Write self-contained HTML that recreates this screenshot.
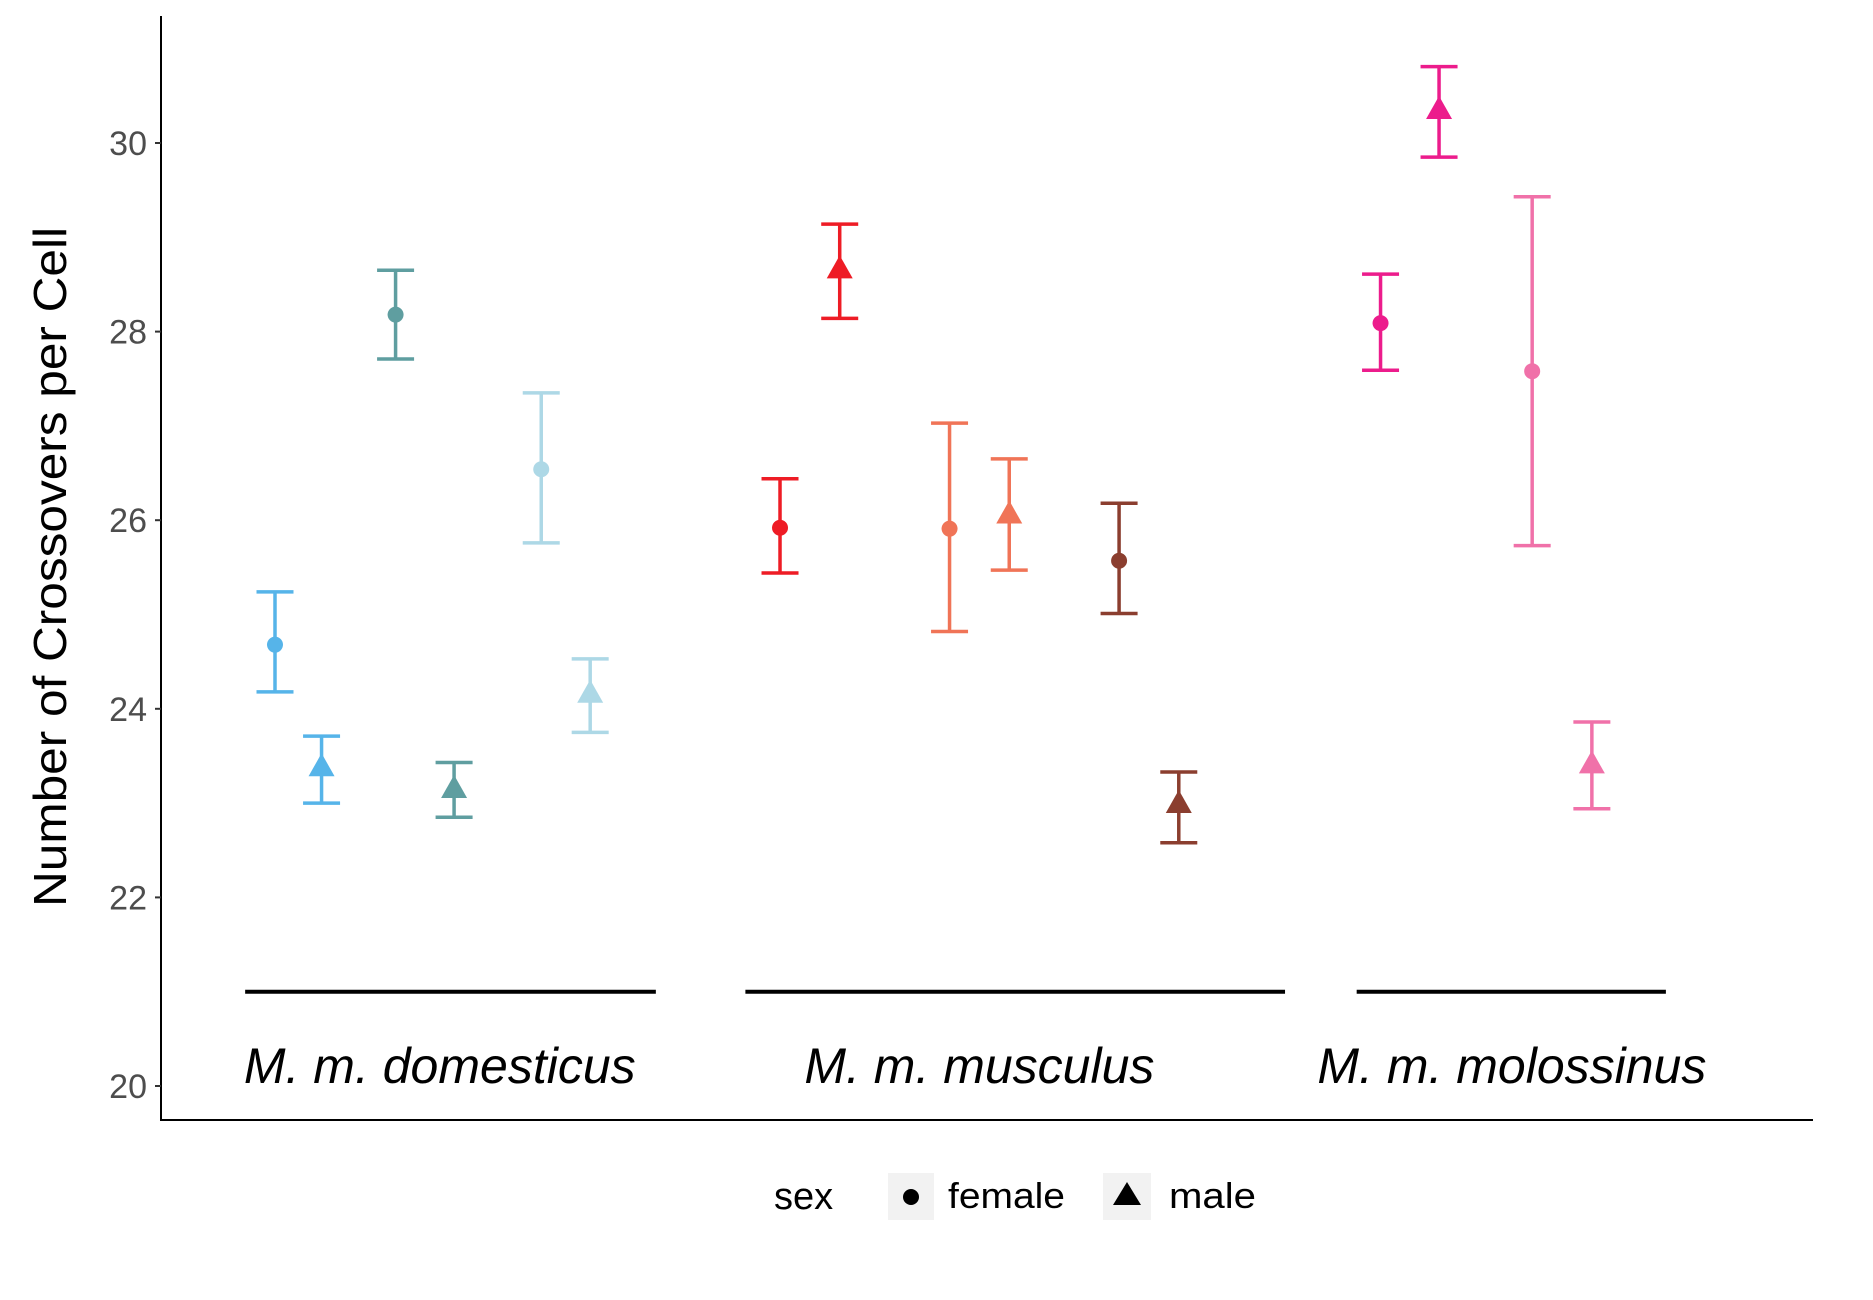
<!DOCTYPE html>
<html><head><meta charset="utf-8"><style>
html,body{margin:0;padding:0;background:#fff;}
svg{display:block;font-family:"Liberation Sans",sans-serif;}
</style></head><body>
<svg id="chart" width="1873" height="1300" viewBox="0 0 1873 1300">
<g id="axes"></g>
<g id="marks"></g>
<g id="groups"></g>
<text transform="translate(66,567) rotate(-90)" text-anchor="middle" font-size="46" textLength="680" lengthAdjust="spacingAndGlyphs" fill="#000">Number of Crossovers per Cell</text>
<g transform="translate(-4,-6)">
<text x="778" y="1215" font-size="38" fill="#000">sex</text>
<rect x="892" y="1179" width="46" height="47" fill="#f2f2f2"/>
<circle cx="915" cy="1203" r="8" fill="#000"/>
<text x="952" y="1214" font-size="36" textLength="117" lengthAdjust="spacingAndGlyphs" fill="#000">female</text>
<rect x="1107" y="1179" width="48" height="47" fill="#f2f2f2"/>
<polygon points="1131,1188 1145,1211 1117,1211" fill="#000"/>
<text x="1173" y="1214" font-size="36" textLength="87" lengthAdjust="spacingAndGlyphs" fill="#000">male</text>
</g>
</svg>
<script>
const xPos = [2.30,2.69,3.31,3.80,4.53,4.94,6.53,7.03,7.95,8.45,9.37,9.87,11.56,12.05,12.83,13.33];
const means = [24.68,23.38,28.18,23.15,26.54,24.16,25.92,28.66,25.91,26.06,25.57,22.99,28.09,30.35,27.58,23.41];
const upper = [25.24,23.71,28.65,23.43,27.35,24.53,26.44,29.14,27.03,26.65,26.18,23.33,28.61,30.81,29.43,23.86];
const lower = [24.18,23.00,27.71,22.85,25.76,23.75,25.44,28.14,24.82,25.47,25.01,22.58,27.59,29.85,25.73,22.94];
const sexes = ["female","male","female","male","female","male","female","male","female","male","female","male","female","male","female","male"];
const colors = ["#56B4E9","#56B4E9","#5F9EA0","#5F9EA0","#ADD8E6","#ADD8E6","#EE1C25","#EE1C25","#F07457","#F07457","#8B3E2F","#8B3E2F","#EC1C8C","#EC1C8C","#F071A9","#F071A9"];
const yTicks = [20,22,24,26,28,30];
const groupNames = ["M. m. domesticus","M. m. musculus","M. m. molossinus"];
const groupStart = [2.05,6.24,11.36];
const groupEnd = [5.49,10.76,13.95];
const groupLabelX = [3.68,8.20,12.66];
const groupLineValue = 21.0;

const NS="http://www.w3.org/2000/svg";
function X(v){return v*119.39+0.4;}
function Y(v){return 1086-(v-20)*94.3;}
function mk(tag,attrs,parent){const e=document.createElementNS(NS,tag);for(const k in attrs)e.setAttribute(k,attrs[k]);parent.appendChild(e);return e;}
const axes=document.getElementById('axes'),marks=document.getElementById('marks'),groups=document.getElementById('groups');

const yl=mk('line',{x1:161,y1:16,x2:161,y2:1120,stroke:'#000','stroke-width':2},axes);


const xl=mk('line',{x1:160,y1:1120,x2:1813,y2:1120,stroke:'#000','stroke-width':2},axes);


yTicks.forEach(t=>{
  const tk=mk('line',{x1:155,y1:Y(t),x2:161,y2:Y(t),stroke:'#333','stroke-width':2},axes);
  
  
  const tl=mk('text',{x:147,y:Y(t)+12,'text-anchor':'end','font-size':34,fill:'#4d4d4d'},axes);
  
  
  tl.textContent=t;
});

xPos.forEach((xv,i)=>{
  const cx=X(xv),c=colors[i],hw=18.5;
  const g=mk('g',{},marks);
  
  
  mk('line',{x1:cx,y1:Y(upper[i]),x2:cx,y2:Y(lower[i]),stroke:c,'stroke-width':3.5},g);
  mk('line',{x1:cx-hw,y1:Y(upper[i]),x2:cx+hw,y2:Y(upper[i]),stroke:c,'stroke-width':3.5},g);
  mk('line',{x1:cx-hw,y1:Y(lower[i]),x2:cx+hw,y2:Y(lower[i]),stroke:c,'stroke-width':3.5},g);
  const cy=Y(means[i]);
  if(sexes[i]==='female'){mk('circle',{cx:cx,cy:cy,r:8,fill:c},g);}
  else{mk('polygon',{points:`${cx},${cy-14} ${cx+13},${cy+9} ${cx-13},${cy+9}`,fill:c},g);}
});

groupNames.forEach((n,i)=>{
  const ln=mk('line',{x1:X(groupStart[i]),y1:Y(groupLineValue),x2:X(groupEnd[i]),y2:Y(groupLineValue),stroke:'#000','stroke-width':4},groups);
  
  
  const t=mk('text',{x:X(groupLabelX[i]),y:1083,'text-anchor':'middle','font-size':50,'font-style':'italic',fill:'#000'},groups);
  
  
  t.textContent=n;
});
</script>
</body></html>
